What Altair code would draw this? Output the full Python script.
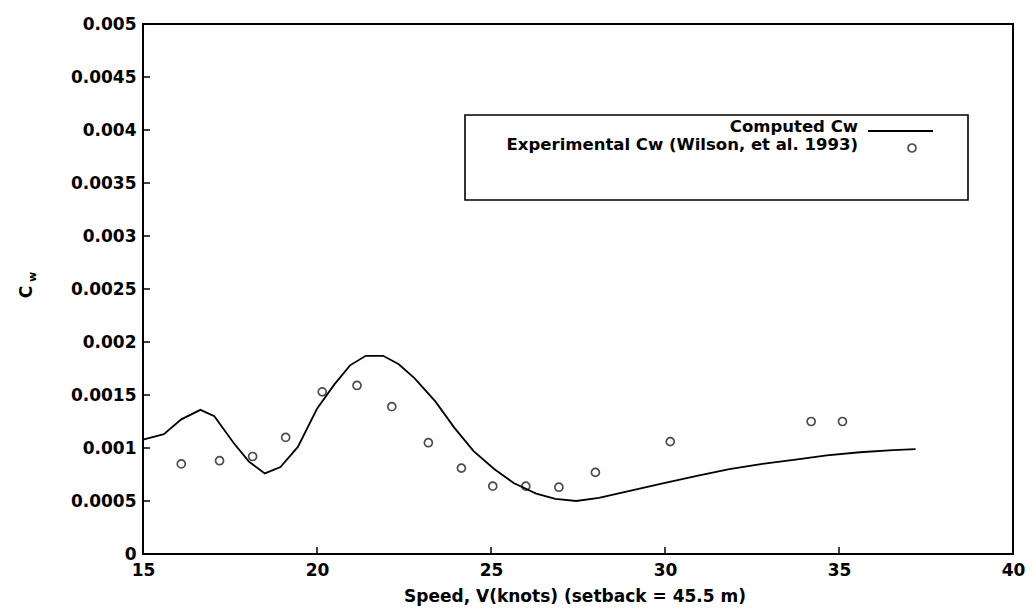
import altair as alt
import pandas as pd

# Computed Cw curve
comp_v = [15.0, 15.6, 16.1, 16.65, 17.05, 17.6, 18.05, 18.5, 18.95, 19.45, 20.0, 20.5,
          20.95, 21.4, 21.9, 22.35, 22.8, 23.4, 23.95, 24.5, 25.1, 25.65, 26.3, 26.85,
          27.45, 28.1, 29.05, 30.0, 30.95, 31.85, 32.8, 33.75, 34.65, 35.6, 36.55, 37.2]
comp_cw = [0.00108, 0.00113, 0.00127, 0.00136, 0.00130, 0.00105, 0.00087, 0.00076,
           0.00082, 0.00101, 0.00137, 0.00160, 0.00178, 0.00187, 0.00187, 0.00179,
           0.00166, 0.00144, 0.00119, 0.00097, 0.00080, 0.00067, 0.00057, 0.00052,
           0.00050, 0.00053, 0.00060, 0.00067, 0.00074, 0.00080, 0.00085, 0.00089,
           0.00093, 0.00096, 0.00098, 0.00099]

# Experimental Cw (Wilson et al. 1993)
exp_v = [16.1, 17.2, 18.15, 19.1, 20.15, 21.15, 22.15, 23.2, 24.15, 25.05, 26.0, 26.95,
         28.0, 30.15, 34.2, 35.1]
exp_cw = [0.00085, 0.00088, 0.00092, 0.00110, 0.00153, 0.00159, 0.00139, 0.00105,
          0.00081, 0.00064, 0.00064, 0.00063, 0.00077, 0.00106, 0.00125, 0.00125]

x_ticks = [15, 20, 25, 30, 35, 40]
y_ticks = [0, 0.0005, 0.001, 0.0015, 0.002, 0.0025, 0.003, 0.0035, 0.004, 0.0045, 0.005]
series_names = ["Computed Cw", "Experimental Cw (Wilson, et al. 1993)"]
x_title = "Speed, V(knots) (setback = 45.5 m)"

W, H = 870, 530
FONT = "DejaVu Sans"

xs = alt.Scale(domain=[15, 40], nice=False, zero=False)
ys = alt.Scale(domain=[0, 0.005], nice=False)

xaxis = alt.Axis(values=x_ticks, title=None, grid=False, ticks=False, domain=False,
                 labelFont=FONT, labelFontWeight="bold", labelFontSize=17,
                 labelColor="black", labelPadding=8, labelFlush=False)
yaxis = alt.Axis(values=y_ticks, title=None, grid=False, ticks=False, domain=False,
                 format=".2~r", labelFont=FONT, labelFontWeight="bold", labelFontSize=17,
                 labelColor="black", labelPadding=7)

comp_df = pd.DataFrame({"v": comp_v, "cw": comp_cw})
exp_df = pd.DataFrame({"v": exp_v, "cw": exp_cw})

line = alt.Chart(comp_df).mark_line(color="black", strokeWidth=1.8).encode(
    x=alt.X("v:Q", scale=xs, axis=xaxis),
    y=alt.Y("cw:Q", scale=ys, axis=yaxis),
)
pts = alt.Chart(exp_df).mark_point(shape="circle", filled=False, color="black",
                                   size=64, strokeWidth=1.7).encode(
    x=alt.X("v:Q", scale=xs),
    y=alt.Y("cw:Q", scale=ys),
)

# inward tick marks
ytk = alt.Chart(pd.DataFrame({"t": y_ticks[1:-1]})).mark_rule(color="black", strokeWidth=1.5).encode(
    y=alt.Y("t:Q", scale=ys), x=alt.value(0), x2=alt.value(7))
xtk = alt.Chart(pd.DataFrame({"t": x_ticks[1:-1]})).mark_rule(color="black", strokeWidth=1.5).encode(
    x=alt.X("t:Q", scale=xs), y=alt.value(H), y2=alt.value(H - 7))

# legend box
leg_box = alt.Chart(pd.DataFrame({"a": [0]})).mark_rect(
    fill="white", stroke="black", strokeWidth=1.6).encode(
    x=alt.value(322), x2=alt.value(825), y=alt.value(91), y2=alt.value(176))
leg_df = pd.DataFrame({"name": series_names, "py": [103, 121]})
leg_text = alt.Chart(leg_df).mark_text(align="right", baseline="middle", font=FONT,
                                       fontWeight="bold", fontSize=16.5, color="black").encode(
    text="name:N", x=alt.value(715), y=alt.Y("py:Q", scale=None))
leg_line = alt.Chart(pd.DataFrame({"a": [0]})).mark_rule(color="black", strokeWidth=1.8).encode(
    x=alt.value(725), x2=alt.value(790), y=alt.value(107))
leg_pt = alt.Chart(pd.DataFrame({"a": [0]})).mark_point(shape="circle", filled=False,
                                                         color="black", size=64, strokeWidth=1.7).encode(
    x=alt.value(769), y=alt.value(124))

# axis titles
xt = alt.Chart(pd.DataFrame({"s": [x_title]})).mark_text(
    font=FONT, fontWeight="bold", fontSize=17, color="black", baseline="middle").encode(
    text="s:N", x=alt.value(432), y=alt.value(573))
yt_c = alt.Chart(pd.DataFrame({"s": ["C"]})).mark_text(
    font=FONT, fontWeight="bold", fontSize=17, color="black", angle=270, baseline="middle").encode(
    text="s:N", x=alt.value(-116), y=alt.value(268))
yt_w = alt.Chart(pd.DataFrame({"s": ["w"]})).mark_text(
    font=FONT, fontWeight="bold", fontSize=11, color="black", angle=270, baseline="middle").encode(
    text="s:N", x=alt.value(-110), y=alt.value(253))

chart = alt.layer(line, pts, ytk, xtk, leg_box, leg_text, leg_line, leg_pt, xt, yt_c, yt_w).properties(
    width=W, height=H,
    padding={"left": 135, "top": 16, "right": 12, "bottom": 54},
    autosize=alt.AutoSizeParams(type="none"),
    background="white",
).configure(
    view=alt.ViewConfig(stroke="black", strokeWidth=2),
)

chart.save("out.html", embed_options={"renderer": "svg", "actions": False})
